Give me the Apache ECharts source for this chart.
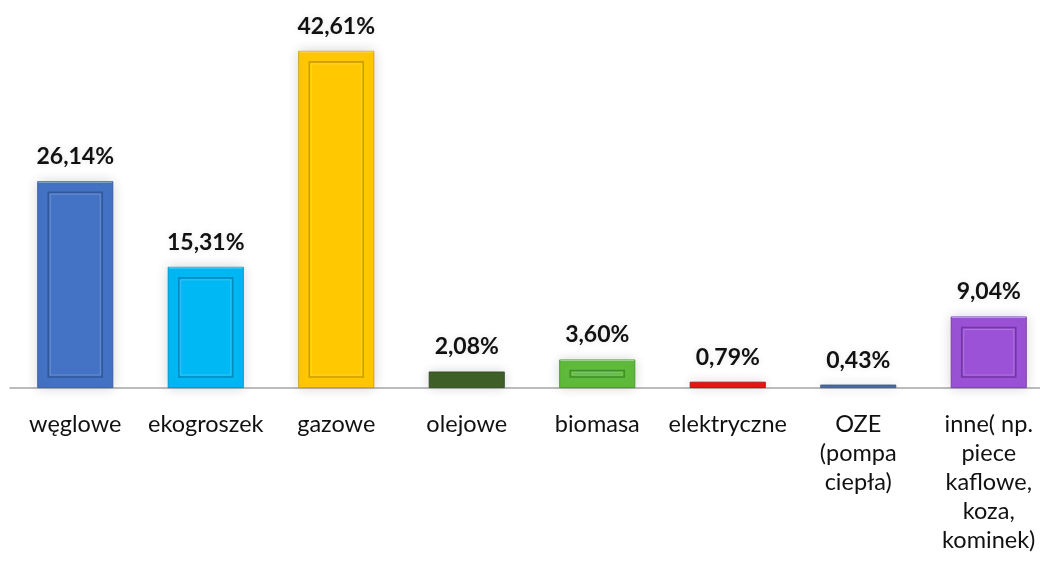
<!DOCTYPE html>
<html>
<head>
<meta charset="utf-8">
<script src="https://cdn.jsdelivr.net/npm/echarts@6/dist/echarts.min.js"></script>
<style>
  html, body { margin: 0; padding: 0; background: #ffffff; }
  #chart { width: 1040px; height: 565px; }
</style>
</head>
<body>
<div id="chart"></div>
<script>
// Heating source categories (axis labels, wrapped as shown under the axis)
const categories = [
  'węglowe',
  'ekogroszek',
  'gazowe',
  'olejowe',
  'biomasa',
  'elektryczne',
  'OZE\n(pompa\nciepła)',
  'inne( np.\npiece\nkaflowe,\nkoza,\nkominek)'
];

// Share of each heating source, in percent
const shares = [26.14, 15.31, 42.61, 2.08, 3.60, 0.79, 0.43, 9.04];

// Fill colour of each bar and the darker tone used for its bevel edge
const barColors  = ['#4472C4', '#00B8F4', '#FFC800', '#3F6129', '#5FBB3C', '#F01414', '#4E6DA6', '#9B52D6'];
const edgeColors = ['#2F5597', '#0087B8', '#C89B00', '#2B441C', '#3F8A26', '#A80000', '#34507F', '#6E32A3'];

const BAR_W = 76;
const INSET = 11;
const FONT = 'Lato, "Open Sans", sans-serif';

const fmt = v => v.toFixed(2).replace('.', ',') + '%';

const chart = echarts.init(document.getElementById('chart'), null, { renderer: 'canvas' });

chart.setOption({
  animation: false,
  backgroundColor: '#ffffff',
  grid: {
    left: 10,
    top: 32,
    width: 1044,
    height: 356,
    outerBoundsMode: 'none'
  },
  xAxis: {
    type: 'category',
    data: categories,
    axisLine: { lineStyle: { color: '#A6A6A6', width: 1.5 } },
    axisTick: { show: false },
    axisLabel: {
      interval: 0,
      margin: 22,
      color: '#111111',
      fontFamily: FONT,
      fontSize: 23.5,
      lineHeight: 29,
      align: 'center'
    }
  },
  yAxis: {
    type: 'value',
    min: 0,
    max: 45,
    show: false,
    splitLine: { show: false }
  },
  series: [
    {
      type: 'bar',
      barWidth: BAR_W,
      data: shares.map((v, i) => ({
        value: v,
        itemStyle: {
          color: barColors[i],
          borderColor: edgeColors[i],
          borderWidth: 0.8,
          shadowBlur: 12,
          shadowColor: 'rgba(0,0,0,0.16)'
        }
      })),
      label: {
        show: true,
        position: 'top',
        distance: 13,
        formatter: p => fmt(p.value),
        fontFamily: FONT,
        fontWeight: 'bold',
        fontSize: 23,
        color: '#111111',
        textShadowBlur: 6,
        textShadowColor: 'rgba(0,0,0,0.12)'
      },
      z: 2
    },
    {
      // raised bevel panel drawn inside each bar
      type: 'custom',
      data: shares.map((v, i) => [i, v]),
      z: 3,
      silent: true,
      renderItem: (params, api) => {
        const i = params.dataIndex;
        const top = api.coord([api.value(0), api.value(1)]);
        const base = api.coord([api.value(0), 0]);
        const h = base[1] - top[1];
        const x0 = top[0] - BAR_W / 2;
        if (h < 2 * INSET + 4) return { type: 'group', children: [] };
        const ix = x0 + INSET, iy = top[1] + INSET;
        const iw = BAR_W - 2 * INSET, ih = h - 2 * INSET;
        const edge = edgeColors[i];
        return {
          type: 'group',
          children: [
            {
              type: 'rect',
              shape: { x: ix, y: iy, width: iw, height: ih },
              style: { fill: 'none', stroke: edge, lineWidth: 1.6, opacity: 0.9 }
            },
            {
              type: 'rect',
              shape: { x: ix + 2, y: iy + 2, width: iw - 4, height: ih - 4 },
              style: { fill: 'none', stroke: 'rgba(255,255,255,0.2)', lineWidth: 1 }
            },
            {
              type: 'line',
              shape: { x1: x0 + 1, y1: top[1] + 1, x2: x0 + BAR_W - 1, y2: top[1] + 1 },
              style: { stroke: 'rgba(255,255,255,0.45)', lineWidth: 1 }
            }
          ]
        };
      }
    }
  ]
});
</script>
</body>
</html>
